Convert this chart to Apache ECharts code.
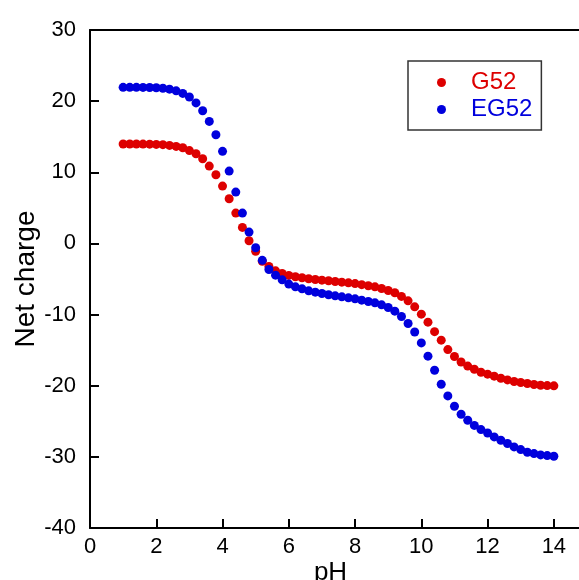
<!DOCTYPE html>
<html>
<head>
<meta charset="utf-8">
<script src="https://cdn.jsdelivr.net/npm/echarts@6/dist/echarts.min.js"></script>
<style>
  html, body { margin: 0; padding: 0; background: #fff; }
  #chart { width: 579px; height: 580px; }
</style>
</head>
<body>
<div id="chart"></div>
<script>
// pH grid shared by both titration curves
const pH = [
  1.0, 1.2, 1.4, 1.6, 1.8, 2.0, 2.2, 2.4, 2.6, 2.8,
  3.0, 3.2, 3.4, 3.6, 3.8, 4.0, 4.2, 4.4, 4.6, 4.8,
  5.0, 5.2, 5.4, 5.6, 5.8, 6.0, 6.2, 6.4, 6.6, 6.8,
  7.0, 7.2, 7.4, 7.6, 7.8, 8.0, 8.2, 8.4, 8.6, 8.8,
  9.0, 9.2, 9.4, 9.6, 9.8, 10.0, 10.2, 10.4, 10.6, 10.8,
  11.0, 11.2, 11.4, 11.6, 11.8, 12.0, 12.2, 12.4, 12.6, 12.8,
  13.0, 13.2, 13.4, 13.6, 13.8, 14.0
];

// Net charge of G52
const chargeG52 = [
  13.97, 13.97, 13.97, 13.96, 13.95, 13.92, 13.88, 13.78, 13.64, 13.45,
  13.05, 12.60, 11.90, 10.87, 9.65, 8.06, 6.28, 4.26, 2.25, 0.37,
  -1.10, -2.50, -3.24, -3.85, -4.22, -4.50, -4.69, -4.83, -4.97, -5.07,
  -5.16, -5.25, -5.35, -5.44, -5.54, -5.65, -5.80, -5.95, -6.10, -6.33,
  -6.62, -6.94, -7.45, -8.07, -8.91, -9.94, -11.07, -12.40, -13.60, -14.92,
  -15.90, -16.67, -17.24, -17.68, -18.10, -18.38, -18.66, -18.95, -19.18, -19.41,
  -19.55, -19.69, -19.83, -19.93, -19.98, -20.02
];

// Net charge of EG52
const chargeEG52 = [
  21.94, 21.94, 21.94, 21.93, 21.92, 21.89, 21.82, 21.68, 21.45, 21.09,
  20.58, 19.75, 18.65, 17.15, 15.28, 12.94, 10.17, 7.22, 4.26, 1.59,
  -0.60, -2.38, -3.66, -4.46, -5.12, -5.72, -6.10, -6.38, -6.66, -6.85,
  -7.04, -7.22, -7.37, -7.51, -7.65, -7.79, -7.97, -8.16, -8.35, -8.63,
  -9.00, -9.52, -10.27, -11.26, -12.45, -13.98, -15.85, -17.82, -19.79, -21.43,
  -22.88, -24.01, -24.85, -25.58, -26.17, -26.64, -27.20, -27.67, -28.13, -28.60,
  -28.98, -29.35, -29.54, -29.73, -29.82, -29.92
];

const seriesNames = ['G52', 'EG52'];
const seriesColors = ['#dd0000', '#0000dd'];

const FONT = '"Liberation Sans", Arial, Helvetica, sans-serif';

const chart = echarts.init(document.getElementById('chart'), null, { renderer: 'canvas' });

const pairs = (ys) => pH.map((x, i) => [x, ys[i]]);

chart.setOption({
  animation: false,
  backgroundColor: '#ffffff',
  grid: { left: 90, top: 30, width: 497, height: 498, containLabel: false, outerBoundsMode: 'none' },
  legend: {
    orient: 'vertical',
    left: 408,
    top: 61,
    padding: [9, 9, 8, 29],
    itemGap: 2,
    itemWidth: 9,
    itemHeight: 9,
    borderColor: '#333333',
    borderWidth: 1.5,
    backgroundColor: '#ffffff',
    textStyle: { fontFamily: FONT, fontSize: 24, lineHeight: 25, padding: [0, 0, 0, 20] },
    data: seriesNames.map((n, i) => ({ name: n, icon: 'circle', textStyle: { color: seriesColors[i] } }))
  },
  xAxis: [
    {
      type: 'value',
      min: 0,
      max: 15,
      interval: 2,
      name: 'pH',
      nameLocation: 'middle',
      nameGap: 32,
      nameMoveOverlap: false,
      nameTextStyle: { fontFamily: FONT, fontSize: 26, color: '#000', padding: [0, 16, 0, 0] },
      axisLine: { onZero: false, lineStyle: { color: '#000', width: 2 } },
      axisTick: { inside: true, length: 9, lineStyle: { color: '#000', width: 2 } },
      axisLabel: {
        fontFamily: FONT, fontSize: 22, color: '#000', margin: 8,
        formatter: (v) => (v % 2 === 0 && v <= 14 ? String(v) : '')
      },
      splitLine: { show: false }
    },
    {
      type: 'value',
      position: 'top',
      min: 0,
      max: 15,
      axisLine: { show: true, onZero: false, lineStyle: { color: '#000', width: 2 } },
      axisTick: { show: false },
      axisLabel: { show: false },
      splitLine: { show: false }
    }
  ],
  yAxis: {
    type: 'value',
    min: -40,
    max: 30,
    interval: 10,
    name: 'Net charge',
    nameLocation: 'middle',
    nameGap: 50,
    nameMoveOverlap: false,
    nameTextStyle: { fontFamily: FONT, fontSize: 28, color: '#000' },
    axisLine: { show: true, onZero: false, lineStyle: { color: '#000', width: 2 } },
    axisTick: { show: true, inside: true, length: 9, lineStyle: { color: '#000', width: 2 } },
    axisLabel: { fontFamily: FONT, fontSize: 22, color: '#000', margin: 14 },
    splitLine: { show: false }
  },
  series: [
    {
      name: seriesNames[0],
      type: 'scatter',
      xAxisIndex: 0,
      symbol: 'circle',
      symbolSize: 9,
      itemStyle: { color: seriesColors[0], opacity: 1 },
      data: pairs(chargeG52)
    },
    {
      name: seriesNames[1],
      type: 'scatter',
      xAxisIndex: 0,
      symbol: 'circle',
      symbolSize: 9,
      itemStyle: { color: seriesColors[1], opacity: 1 },
      data: pairs(chargeEG52)
    }
  ]
});
</script>
</body>
</html>
